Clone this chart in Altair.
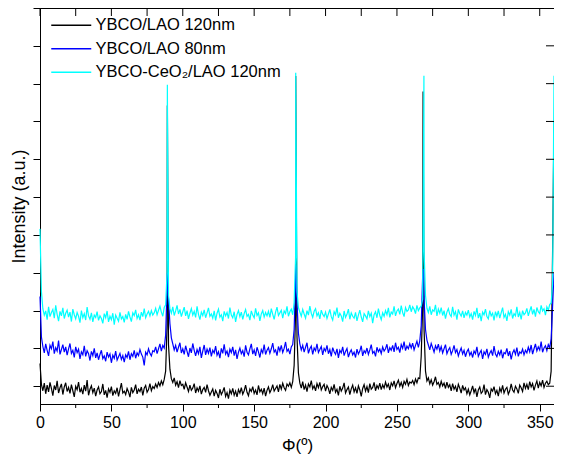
import altair as alt
import pandas as pd

# ---------------- data ----------------
series_names = ["YBCO/LAO 120nm", "YBCO/LAO 80nm", "YBCO-CeO₂/LAO 120nm"]
series_colors = ["#000000", "#0000ff", "#00ffff"]

phi_grid = list(range(0, 361))  # degrees, 1° step

black_int = [
    60, 5, -12, 8, -20, 3, -15, 10, -6, -25, 2, -10, 14, -18, -4, 6, -22, -2, 9, -14,
    -3, -19, 4, -12, -28, 0, -9, 11, -16, -6, -21, 3, -13, 16, -24, -8, 1, -17, -5, -26,
    -10, -2, -20, -14, 6, -23, -11, -30, -7, -16, -1, -25, -12, -19, -4, -27, -9, 8, -18, -13,
    -22, -6, -15, -29, -3, -17, -10, 4, -20, -8, -14, -2, -24, -5, 2, -16, -9, 7, -12, -1,
    -6, 6, -3, 10, 1, 14, 4, 18, 40, 160, 110, 45, 20, 10, 22, 3, 12, -4, 15, 2,
    5, -8, 9, -2, -14, 3, -11, -5, 7, -18, -4, -13, 1, -21, -9, -3, -16, 4, -12, -24,
    -15, -7, -26, -11, -19, -31, -8, -22, -14, -3, -27, -17, -33, -10, -20, -6, -24, -13, -28, -9,
    -18, -4, -21, -12, 3, -16, -25, -7, -14, -1, -19, -10, -23, 2, -15, -8, -20, -5, -26, -11,
    -2, -17, -9, 4, -13, -6, 1, -15, 5, -8, 8, -4, -11, 6, 0, 9, -3, 12, 55, 190,
    130, 35, 8, -5, 12, -9, 3, -14, 6, -2, 15, -7, 1, -12, 7, -4, 10, -10, -1, 5,
    -13, 2, -6, -20, -3, -11, 5, -16, -8, -24, 0, -13, -5, 9, -18, -9, -2, -22, -7, 3,
    -15, -4, -19, 1, -10, -27, -6, 4, -13, -1, -17, 7, -8, -3, 10, -12, 2, -6, 8, -9,
    4, -5, 11, -2, 6, -10, 9, 1, 14, -4, 7, 16, 0, 10, -3, 13, 5, 18, 2, 11,
    8, 15, 4, 19, 9, 22, 20, 80, 210, 150, 40, 14, 22, 6, 17, 3, 12, 25, 5, 10,
    -2, 13, 1, 8, -6, 11, -3, 4, -12, 7, -8, 0, -15, 5, -5, -18, 2, -10, -4, -20,
    -8, -23, -12, 1, -17, -6, -28, -10, -2, -19, -14, 4, -22, -9, -16, -31, -7, -13, -1, -20,
    -11, -26, -5, -15, 2, -18, -8, -3, -21, -12, 6, -10, -16, 0, -7, -19, 3, -4, -14, 9,
    -6, 5, -9, 12, -2, 7, -11, 3, 14, -5, 10, 1, 16, -3, 8, 13, 4, 8, 40, 350,
    700,
]
black_peak_phi = [89.2, 179.1, 268.3]
black_peak_int = [742, 820, 779]

blue_int = [
    237, 130, 105, 88, 112, 95, 80, 108, 99, 118, 86, 102, 93, 121, 84, 97, 110, 90, 104, 82,
    99, 113, 87, 95, 76, 104, 89, 98, 72, 91, 83, 107, 79, 94, 86, 68, 92, 81, 100, 75,
    88, 70, 84, 95, 73, 80, 66, 90, 77, 85, 62, 82, 74, 93, 69, 78, 87, 71, 81, 64,
    83, 76, 92, 70, 86, 79, 95, 74, 88, 81, 97, 85, 77, 55, 90, 83, 99, 87, 80, 94,
    91, 104, 86, 99, 112, 93, 108, 101, 135, 260, 230, 165, 128, 112, 96, 108, 90, 103, 115, 88,
    99, 84, 107, 92, 78, 101, 88, 113, 95, 80, 97, 86, 104, 75, 93, 109, 83, 98, 87, 102,
    79, 95, 88, 106, 82, 91, 74, 100, 87, 111, 85, 93, 77, 98, 89, 104, 81, 96, 72, 90,
    101, 86, 94, 78, 108, 90, 83, 99, 112, 85, 96, 80, 103, 91, 76, 97, 88, 110, 84, 95,
    102, 87, 99, 114, 90, 96, 81, 105, 93, 108, 89, 100, 117, 92, 98, 85, 104, 110, 150, 280,
    220, 140, 112, 96, 108, 90, 103, 115, 87, 99, 106, 84, 101, 94, 112, 89, 97, 105, 83, 100,
    93, 108, 86, 97, 79, 102, 91, 84, 99, 75, 95, 88, 104, 81, 92, 100, 77, 89, 96, 83,
    90, 76, 98, 85, 93, 107, 80, 94, 88, 101, 84, 96, 110, 87, 92, 79, 103, 91, 98, 86,
    104, 93, 99, 111, 88, 102, 95, 108, 91, 115, 97, 103, 89, 110, 100, 118, 94, 106, 99, 112,
    101, 114, 96, 108, 119, 103, 120, 160, 290, 230, 150, 122, 109, 96, 113, 102, 90, 107, 98, 111,
    93, 105, 88, 99, 110, 86, 96, 102, 84, 94, 108, 89, 97, 80, 92, 101, 85, 95, 78, 91,
    98, 82, 90, 76, 93, 86, 104, 79, 88, 95, 72, 91, 84, 99, 77, 87, 94, 81, 106, 85,
    78, 92, 83, 97, 74, 89, 86, 100, 80, 93, 71, 88, 96, 84, 102, 79, 91, 87, 98, 83,
    95, 88, 103, 91, 109, 85, 99, 112, 93, 104, 96, 118, 90, 101, 107, 94, 110, 102, 125, 210,
    300,
]
blue_peak_phi = [89.3, 179.2, 268.6]
blue_peak_int = [300, 320, 310]

cyan_int = [
    416, 250, 205, 188, 199, 176, 210, 184, 195, 203, 180, 214, 190, 172, 198, 186, 207, 179, 193, 201,
    183, 196, 171, 204, 189, 178, 195, 185, 168, 200, 181, 192, 175, 209, 186, 177, 194, 170, 188, 182,
    197, 174, 186, 179, 166, 192, 181, 199, 170, 185, 176, 193, 163, 188, 180, 172, 195, 178, 184, 169,
    190, 177, 198, 183, 171, 194, 187, 202, 179, 189, 175, 196, 184, 205, 181, 191, 198, 186, 200, 188,
    194, 206, 189, 201, 212, 196, 185, 208, 215, 300, 240, 205, 193, 210, 187, 199, 214, 191, 203, 184,
    197, 209, 186, 200, 178, 193, 205, 188, 198, 182, 211, 190, 176, 196, 187, 202, 181, 194, 207, 185,
    191, 180, 199, 174, 193, 204, 183, 189, 172, 198, 186, 195, 179, 208, 188, 181, 197, 170, 190, 200,
    184, 196, 177, 192, 203, 185, 190, 175, 199, 188, 181, 206, 187, 194, 173, 191, 200, 183, 195, 186,
    198, 182, 205, 190, 177, 196, 209, 187, 194, 201, 180, 199, 192, 211, 185, 197, 204, 189, 222, 340,
    250, 208, 196, 185, 203, 191, 180, 200, 188, 212, 193, 182, 198, 205, 186, 194, 178, 201, 190, 184,
    196, 179, 191, 203, 184, 175, 197, 189, 208, 181, 193, 186, 171, 199, 182, 190, 204, 177, 194, 185,
    180, 195, 173, 188, 201, 183, 170, 192, 186, 178, 199, 184, 193, 167, 189, 197, 181, 205, 187, 176,
    194, 185, 200, 189, 207, 182, 196, 191, 211, 186, 199, 204, 190, 213, 195, 184, 208, 198, 202, 215,
    197, 210, 204, 192, 214, 200, 207, 212, 230, 360, 240, 206, 195, 211, 189, 202, 198, 215, 186, 204,
    193, 208, 187, 200, 179, 196, 205, 190, 184, 210, 188, 197, 176, 203, 192, 185, 199, 181, 195, 188,
    201, 183, 192, 176, 198, 187, 207, 180, 193, 172, 196, 189, 204, 184, 178, 200, 186, 193, 174, 197,
    185, 199, 180, 194, 208, 182, 190, 173, 197, 188, 203, 179, 192, 186, 210, 183, 195, 177, 200, 189,
    194, 206, 186, 199, 211, 190, 203, 184, 208, 197, 192, 214, 199, 205, 188, 210, 201, 216, 220, 270,
    821,
]
cyan_peak_phi = [89.2, 179.1, 268.9]
cyan_peak_int = [797, 829, 821]

x_major_ticks = [0, 50, 100, 150, 200, 250, 300, 350]
x_minor_ticks = [25, 75, 125, 175, 225, 275, 325]
x_top_ticks = [0, 25, 50, 75, 100, 125, 150, 175, 200, 225, 250, 275, 300, 325, 350]
y_ticks = [0, 100, 200, 300, 400, 500, 600, 700, 800, 900, 1000]

# ---------------- table ----------------
rows = []
for name, base, pk_phi, pk_int in [
    (series_names[0], black_int, black_peak_phi, black_peak_int),
    (series_names[1], blue_int, blue_peak_phi, blue_peak_int),
    (series_names[2], cyan_int, cyan_peak_phi, cyan_peak_int),
]:
    for p, v in zip(phi_grid, base):
        rows.append({"series": name, "phi": p, "intensity": v})
    for p, v in zip(pk_phi, pk_int):
        rows.append({"series": name, "phi": p, "intensity": v})
df = pd.DataFrame(rows)

W, H = 514, 396
FONT = "Liberation Sans"

x_scale = alt.Scale(domain=[0, 360], nice=False, zero=False)
y_scale = alt.Scale(domain=[-47, 1000], nice=False, zero=False)
color_scale = alt.Scale(domain=series_names, range=series_colors)

x_axis = alt.Axis(values=x_major_ticks, title="Φ(º)", labelFontSize=16, titleFontSize=17,
                  titleFontWeight="normal", tickSize=7, labelPadding=3, titlePadding=7,
                  domainColor="black", tickColor="black", labelColor="black", titleColor="black",
                  grid=False, labelFont=FONT, titleFont=FONT, labelFlush=False, labelOverlap=False)
y_axis = alt.Axis(values=y_ticks, labels=False, title="Intensity (a.u.)", titleFontSize=18,
                  titleFontWeight="normal", tickSize=7, titlePadding=4, titleColor="black",
                  domainColor="black", tickColor="black", grid=False, titleFont=FONT)

legend = alt.Legend(title=None, orient="none", legendX=6, legendY=9,
                    symbolType="M-0.6,0H7.4", symbolSize=100, symbolStrokeWidth=1.5,
                    labelFontSize=16.5, labelFont=FONT, labelColor="black",
                    labelOffset=33, rowPadding=6.5, padding=0, labelLimit=400)

layers = []
for name in series_names:
    layers.append(
        alt.Chart(df)
        .transform_filter(alt.FieldEqualPredicate(field="series", equal=name))
        .mark_line(strokeWidth=1.2)
        .encode(
            x=alt.X("phi:Q", scale=x_scale, axis=x_axis),
            y=alt.Y("intensity:Q", scale=y_scale, axis=y_axis),
            color=alt.Color("series:N", scale=color_scale, legend=legend),
        )
    )

top_ticks = alt.Chart(pd.DataFrame({"t": x_top_ticks})).mark_rule(color="black", strokeWidth=1).encode(
    x=alt.X("t:Q", scale=x_scale, axis=x_axis), y=alt.value(0), y2=alt.value(8)
)
minor_ticks = alt.Chart(pd.DataFrame({"t": x_minor_ticks})).mark_rule(color="black", strokeWidth=1).encode(
    x=alt.X("t:Q", scale=x_scale, axis=x_axis), y=alt.value(H), y2=alt.value(H + 4)
)
right_ticks = alt.Chart(pd.DataFrame({"t": y_ticks})).mark_rule(color="black", strokeWidth=1).encode(
    y=alt.Y("t:Q", scale=y_scale, axis=y_axis), x=alt.value(W), x2=alt.value(W - 8)
)

chart = (
    alt.layer(*layers, top_ticks, minor_ticks, right_ticks)
    .properties(width=W, height=H, autosize=alt.AutoSizeParams(type="none"),
                padding={"left": 32, "top": 0, "right": 0, "bottom": 52})
    .configure_view(stroke="black", strokeWidth=1)
    .configure_axis(grid=False)
)

chart.save("out.html", embed_options={"renderer": "svg", "actions": False})
